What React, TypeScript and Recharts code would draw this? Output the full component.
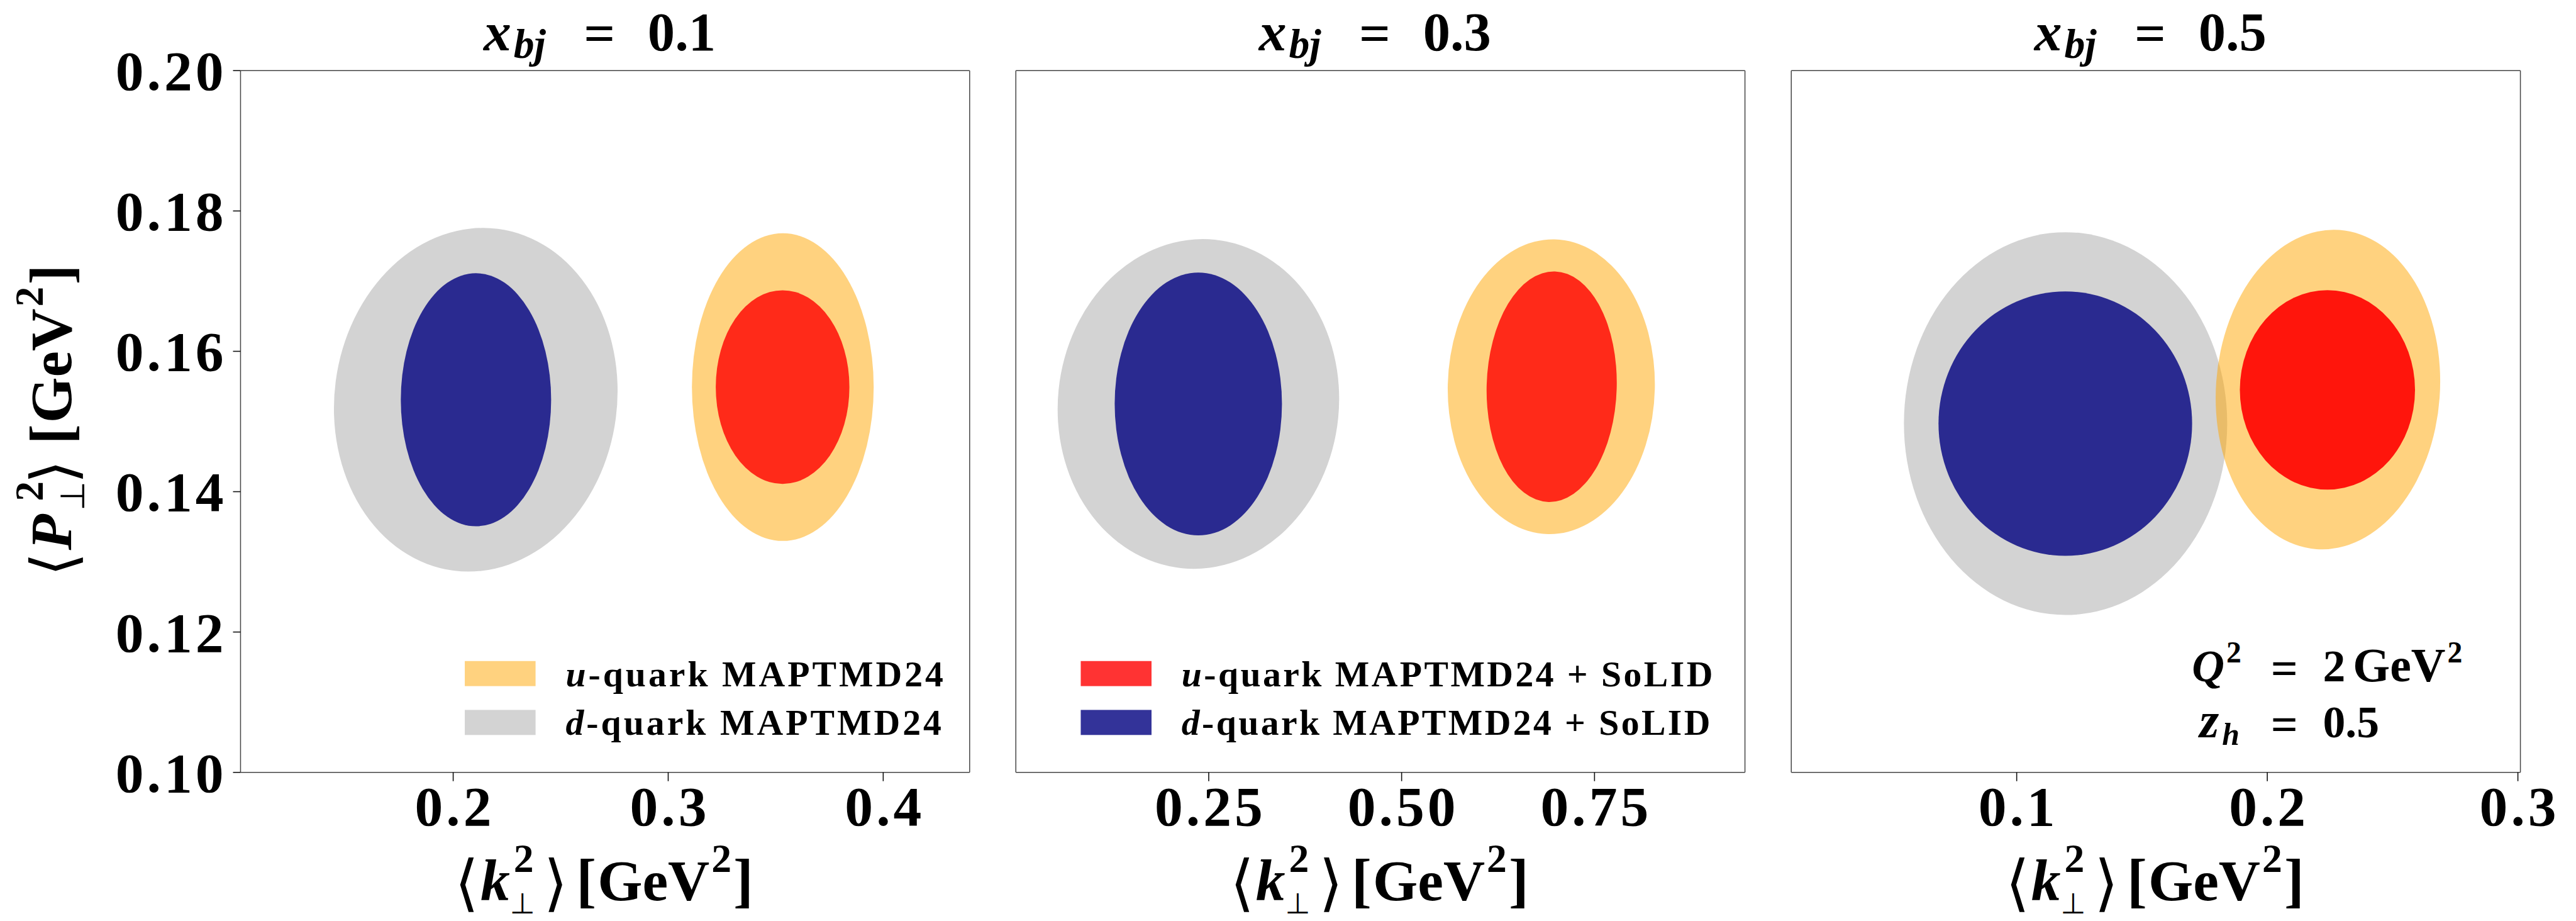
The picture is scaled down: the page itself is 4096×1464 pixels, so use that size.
import React from 'react';
import { ComposedChart, XAxis, YAxis, ReferenceArea, Legend, Scatter } from 'recharts';

const S = 0.996;
const REF_H = 1470;
const H = REF_H * S;
const FONT = '"Liberation Serif", "Times New Roman", serif';
const SYM = '"DejaVu Sans", "DejaVu Serif", sans-serif';

// ---------------- data ----------------
const xbjValues = ['0.1', '0.3', '0.5'];
const xDomainLow = [0.1011, 0.0, 0.01005];
const xDomainHigh = [0.4402, 0.945, 0.301];
const xTickValues = [[0.2, 0.3, 0.4], [0.25, 0.5, 0.75], [0.1, 0.2, 0.3]];
const xTickLabels = [['0.2', '0.3', '0.4'], ['0.25', '0.50', '0.75'], ['0.1', '0.2', '0.3']];
const yDomain = [0.1, 0.2];
const yTickValues = [0.1, 0.12, 0.14, 0.16, 0.18, 0.2];
const yTickLabels = ['0.10', '0.12', '0.14', '0.16', '0.18', '0.20'];

// ellipse: centre <k2>, centre <P2>, half-axis along <k2>, half-axis along <P2>, tilt (deg)
const dQuarkMAPTMD24 = [
  { k: 0.2105, p: 0.1531, dk: 0.0657, dp: 0.02455, tilt: 7.4 },
  { k: 0.2366, p: 0.1525, dk: 0.1821, dp: 0.02352, tilt: 5.7 },
  { k: 0.1195, p: 0.1497, dk: 0.0645, dp: 0.02727, tilt: 0 },
];
const uQuarkMAPTMD24 = [
  { k: 0.3533, p: 0.1549, dk: 0.04227, dp: 0.02192, tilt: 0 },
  { k: 0.694, p: 0.15495, dk: 0.1342, dp: 0.021, tilt: 1.3 },
  { k: 0.2242, p: 0.15455, dk: 0.04468, dp: 0.0228, tilt: 4.1 },
];
const dQuarkSoLID = [
  { k: 0.2106, p: 0.1531, dk: 0.03496, dp: 0.01803, tilt: 0 },
  { k: 0.2365, p: 0.1525, dk: 0.1084, dp: 0.01873, tilt: 0 },
  { k: 0.1194, p: 0.1497, dk: 0.0506, dp: 0.01884, tilt: 0 },
];
const uQuarkSoLID = [
  { k: 0.3532, p: 0.1549, dk: 0.03108, dp: 0.0138, tilt: 0 },
  { k: 0.6945, p: 0.15496, dk: 0.0843, dp: 0.01643, tilt: 1.6 },
  { k: 0.224, p: 0.1545, dk: 0.03495, dp: 0.01421, tilt: 0 },
];

const legendQuarks = ['u', 'd'];
const legendTextMAP = ['-quark MAPTMD24', '-quark MAPTMD24'];
const legendTextSoLID = ['-quark MAPTMD24 + SoLID', '-quark MAPTMD24 + SoLID'];

// ---------------- styles / layout (reference pixels) ----------------
const FILL = { dMAP: '#D3D3D3', uMAP: '#FFA500', dSoLID: '#000080', uSoLID: '#FF0000' };
const OP_dMAP = 1;
const OP_uMAP = 0.5;
const OP_dSoLID = 0.8;
const OP_uSoLID = [0.8, 0.8, 0.9];

const chartLeft = [0, 1585, 2822];
const chartRight = [1585, 2822, 4112];
const plotLeft = [384, 1621.4, 2859.4];
const plotW = 1164;
const plotTop = 112.7;
const plotBottom = 1232.7;
const legendBoxLeft = [742, 1725];
const legendRowTop = [1055, 1133];
const legendTextLen = [[603, 600], [848, 844]];

const spine = { stroke: '#444', strokeWidth: 1.5 };
const tickLn = { stroke: '#111', strokeWidth: 1.6 };

type Piece = { t: string; off?: number; dy: number; size: number; italic?: boolean; sym?: boolean; dx?: number };

// pieces with `off` sit at an offset from the start; the others flow after the previous one
const MathText = ({ pieces, startX, baseY, ox }: { pieces: Piece[]; startX: number; baseY: number; ox: number }) => (
  <text fontFamily={FONT} fontWeight="bold" fill="#000">
    {pieces.map((p, j) => (
      <tspan
        key={j}
        x={p.off !== undefined ? (startX + p.off - ox) * S : undefined}
        dx={p.dx !== undefined ? p.dx * S : undefined}
        y={(baseY + p.dy) * S}
        fontFamily={p.sym ? SYM : FONT}
        fontWeight={p.sym ? 'normal' : 'bold'}
        fontSize={p.size * S}
        fontStyle={p.italic ? 'italic' : 'normal'}
        fill="#000"
      >
        {p.t}
      </tspan>
    ))}
  </text>
);

const kLabel: Piece[] = [
  { t: '⟨', off: -8, dy: 6, size: 98, sym: true },
  { t: 'k', off: 33, dy: 0, size: 94, italic: true },
  { t: '2', off: 86, dy: -45, size: 64 },
  { t: '⊥', off: 80, dy: 21, size: 46, sym: true },
  { t: '⟩', off: 134, dy: 6, size: 98, sym: true },
  { t: '[', off: 186, dy: 0, size: 96 },
  { t: 'GeV', dx: 2, dy: 0, size: 92 },
  { t: '2', dx: 3, dy: -45, size: 64 },
  { t: ']', dx: 3, dy: 0, size: 96 },
];
const pLabel: Piece[] = [
  { t: '⟨', off: -8, dy: 6, size: 98, sym: true },
  { t: 'P', off: 34, dy: 0, size: 94, italic: true },
  { t: '2', off: 112, dy: -45, size: 64 },
  { t: '⊥', off: 97, dy: 22, size: 54, sym: true },
  { t: '⟩', off: 140, dy: 6, size: 98, sym: true },
  { t: '[', off: 203, dy: 0, size: 96 },
  { t: 'GeV', dx: 2, dy: 0, size: 94 },
  { t: '2', dx: 3, dy: -45, size: 64 },
  { t: ']', dx: 3, dy: 0, size: 96 },
];
const titlePieces = (v: string): Piece[] => [
  { t: 'x', off: 0, dy: 0, size: 88, italic: true },
  { t: 'bj', dx: 4, dy: 12, size: 66, italic: true },
  { t: '=', off: 160, dy: 2, size: 88 },
  { t: v, off: 262, dy: 0, size: 87 },
];
const q2Pieces: Piece[] = [
  { t: 'Q', off: 0, dy: 0, size: 72, italic: true },
  { t: '2', dx: 3, dy: -30, size: 48 },
  { t: '=', off: 126, dy: 5, size: 76 },
  { t: '2', off: 209, dy: 0, size: 72 },
  { t: 'GeV', dx: 12, dy: 0, size: 76 },
  { t: '2', dx: 3, dy: -30, size: 48 },
];
const zhPieces: Piece[] = [
  { t: 'z', off: 0, dy: 0, size: 80, italic: true },
  { t: 'h', dx: 5, dy: 12, size: 50, italic: true },
  { t: '=', off: 114, dy: 5, size: 76 },
  { t: '0.5', off: 197, dy: 0, size: 72 },
];

const EllipseShape = (props: any) => {
  const { x, y, width, height, tilt, ellFill, ellOpacity } = props;
  if ([x, y, width, height].some((v) => typeof v !== 'number' || isNaN(v))) return null;
  const cx = x + width / 2;
  const cy = y + height / 2;
  return (
    <ellipse
      cx={cx}
      cy={cy}
      rx={Math.abs(width) / 2}
      ry={Math.abs(height) / 2}
      fill={ellFill}
      fillOpacity={ellOpacity}
      stroke="none"
      transform={`rotate(${tilt} ${cx} ${cy})`}
    />
  );
};

const YTick = (props: any) => {
  const { x, y, payload } = props;
  const idx = yTickValues.findIndex((v) => Math.abs(v - payload.value) < 1e-6);
  return (
    <text x={x} y={y + 31 * S} textAnchor="end" fontFamily={FONT} fontWeight="bold" fontSize={90 * S} letterSpacing={5 * S} fill="#000">
      {yTickLabels[idx]}
    </text>
  );
};

const makeXTick = (i: number) => (props: any) => {
  const { x, y, payload } = props;
  const idx = xTickValues[i].findIndex((v) => Math.abs(v - payload.value) < 1e-6);
  return (
    <text x={x + 2.5 * S} y={y + 60 * S} textAnchor="middle" fontFamily={FONT} fontWeight="bold" fontSize={90 * S} letterSpacing={5 * S} fill="#000">
      {xTickLabels[i][idx]}
    </text>
  );
};

const Overlay = ({ i, w }: { i: number; w: number }) => {
  const ox = chartLeft[i];
  let content: React.ReactNode = null;
  if (i === 2) {
    content = (
      <g>
        <MathText pieces={q2Pieces} startX={3499} baseY={1087} ox={ox} />
        <MathText pieces={zhPieces} startX={3511} baseY={1177} ox={ox} />
      </g>
    );
  } else {
    const labels = i === 0 ? legendTextMAP : legendTextSoLID;
    const fills = i === 0 ? [FILL.uMAP, FILL.dMAP] : [FILL.uSoLID, FILL.dSoLID];
    const ops = i === 0 ? [OP_uMAP, OP_dMAP] : [OP_uSoLID[1], OP_dSoLID];
    content = (
      <g>
        {labels.map((lab, r) => (
          <g key={r}>
            <rect
              x={(legendBoxLeft[i] - ox) * S}
              y={legendRowTop[r] * S}
              width={113 * S}
              height={40 * S}
              fill={fills[r]}
              fillOpacity={ops[r]}
            />
            <text
              x={(legendBoxLeft[i] + 161 - ox) * S}
              y={(legendRowTop[r] + 40) * S}
              fontFamily={FONT}
              fontWeight="bold"
              fontSize={58 * S}
              fill="#000"
              textLength={legendTextLen[i][r] * S}
              lengthAdjust="spacing"
            >
              <tspan fontStyle="italic">{legendQuarks[r]}</tspan>
              <tspan>{lab}</tspan>
            </text>
          </g>
        ))}
      </g>
    );
  }
  return (
    <svg width={w} height={H} style={{ position: 'absolute', left: 0, top: 0 }}>
      {content}
    </svg>
  );
};

const Panel = ({ i }: { i: number }) => {
  const ox = chartLeft[i];
  const w = (chartRight[i] - chartLeft[i]) * S;
  const yW = plotLeft[i] - ox;
  const rightW = 2;
  const marginRight = (chartRight[i] - plotLeft[i] - plotW - rightW) * S;
  const domain = [xDomainLow[i], xDomainHigh[i]];
  const cx = plotLeft[i] + plotW / 2;
  const ells = [
    { d: dQuarkMAPTMD24[i], fill: FILL.dMAP, op: OP_dMAP },
    { d: uQuarkMAPTMD24[i], fill: FILL.uMAP, op: OP_uMAP },
    { d: dQuarkSoLID[i], fill: FILL.dSoLID, op: OP_dSoLID },
    { d: uQuarkSoLID[i], fill: FILL.uSoLID, op: OP_uSoLID[i] },
  ];
  const centres = ells.map((e) => ({ k: e.d.k, p: e.d.p }));
  return (
    <ComposedChart width={w} height={H} data={centres} layout="horizontal" margin={{ top: 0, bottom: 0, left: 0, right: marginRight }}>
      <XAxis
        xAxisId="b"
        dataKey="k"
        orientation="bottom"
        type="number"
        domain={domain}
        allowDataOverflow
        ticks={xTickValues[i]}
        interval={0}
        height={(REF_H - plotBottom) * S}
        axisLine={spine}
        tickLine={tickLn}
        tickSize={14 * S}
        tickMargin={11 * S}
        tick={makeXTick(i)}
        label={() => <MathText pieces={kLabel} startX={cx - 232} baseY={1437} ox={ox} />}
      />
      <XAxis
        xAxisId="t"
        dataKey="k"
        orientation="top"
        type="number"
        domain={domain}
        allowDataOverflow
        height={plotTop * S}
        axisLine={spine}
        tick={false}
        tickLine={false}
        label={() => <MathText pieces={titlePieces(xbjValues[i])} startX={cx - 194} baseY={80} ox={ox} />}
      />
      <YAxis
        yAxisId="l"
        dataKey="p"
        orientation="left"
        type="number"
        domain={yDomain}
        allowDataOverflow
        ticks={yTickValues}
        interval={0}
        width={yW * S}
        axisLine={spine}
        tickLine={tickLn}
        tickSize={12 * S}
        tickMargin={10 * S}
        tick={i === 0 ? YTick : false}
        label={
          i === 0
            ? () => (
                <g transform={`rotate(-90 ${113 * S} ${912 * S})`}>
                  <MathText pieces={pLabel} startX={113} baseY={912} ox={0} />
                </g>
              )
            : undefined
        }
      />
      <YAxis
        yAxisId="r"
        dataKey="p"
        orientation="right"
        type="number"
        domain={yDomain}
        allowDataOverflow
        width={rightW * S}
        axisLine={spine}
        tick={false}
        tickLine={false}
      />
      <Scatter xAxisId="b" yAxisId="l" dataKey="p" isAnimationActive={false} legendType="none" shape={() => <g />} />
      {ells.map((e, j) => (
        <ReferenceArea
          key={j}
          xAxisId="b"
          yAxisId="l"
          x1={e.d.k - e.d.dk}
          x2={e.d.k + e.d.dk}
          y1={e.d.p - e.d.dp}
          y2={e.d.p + e.d.dp}
          ifOverflow="visible"
          shape={(props: any) => <EllipseShape {...props} tilt={e.d.tilt} ellFill={e.fill} ellOpacity={e.op} />}
        />
      ))}
      <Legend
        layout="vertical"
        align="center"
        verticalAlign="middle"
        wrapperStyle={{ position: 'absolute', left: 0, top: 0, width: w, height: H, margin: 0, padding: 0, pointerEvents: 'none' }}
        content={() => <Overlay i={i} w={w} />}
      />
    </ComposedChart>
  );
};

export default function App() {
  return (
    <div style={{ position: 'absolute', left: 0, top: 0, width: 4112 * S, height: H, background: '#fff', overflow: 'hidden' }}>
      {[0, 1, 2].map((i) => (
        <div
          key={i}
          style={{ position: 'absolute', left: chartLeft[i] * S, top: 0, width: (chartRight[i] - chartLeft[i]) * S, height: H }}
        >
          <Panel i={i} />
        </div>
      ))}
    </div>
  );
}
